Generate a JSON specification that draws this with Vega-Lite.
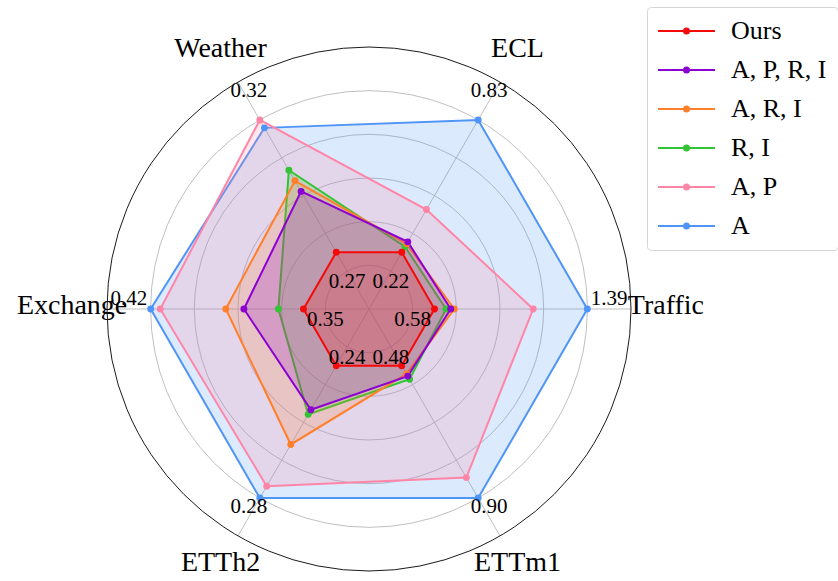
{
  "$schema": "https://vega.github.io/schema/vega-lite/v6.json",
  "width": 524,
  "height": 524,
  "autosize": {"type": "none"},
  "padding": {"left": 107, "top": 47, "right": 207, "bottom": 10},
  "config": {"view": {"stroke": null}, "font": "Liberation Serif"},
  "datasets": {
    "scores": [
      {"model": "A", "axis": "Traffic", "value": 1.39},
      {"model": "A", "axis": "ECL", "value": 0.83},
      {"model": "A", "axis": "Weather", "value": 0.317},
      {"model": "A", "axis": "Exchange", "value": 0.42},
      {"model": "A", "axis": "ETTh2", "value": 0.28},
      {"model": "A", "axis": "ETTm1", "value": 0.9},
      {"model": "A, P", "axis": "Traffic", "value": 1.103},
      {"model": "A, P", "axis": "ECL", "value": 0.417},
      {"model": "A, P", "axis": "Weather", "value": 0.32},
      {"model": "A, P", "axis": "Exchange", "value": 0.4156},
      {"model": "A, P", "axis": "ETTh2", "value": 0.2764},
      {"model": "A, P", "axis": "ETTm1", "value": 0.835},
      {"model": "R, I", "axis": "Traffic", "value": 0.641},
      {"model": "R, I", "axis": "ECL", "value": 0.246},
      {"model": "R, I", "axis": "Weather", "value": 0.301},
      {"model": "R, I", "axis": "Exchange", "value": 0.3615},
      {"model": "R, I", "axis": "ETTh2", "value": 0.2547},
      {"model": "R, I", "axis": "ETTm1", "value": 0.523},
      {"model": "A, R, I", "axis": "Traffic", "value": 0.685},
      {"model": "A, R, I", "axis": "ECL", "value": 0.259},
      {"model": "A, R, I", "axis": "Weather", "value": 0.297},
      {"model": "A, R, I", "axis": "Exchange", "value": 0.3856},
      {"model": "A, R, I", "axis": "ETTh2", "value": 0.2638},
      {"model": "A, R, I", "axis": "ETTm1", "value": 0.506},
      {"model": "A, P, R, I", "axis": "Traffic", "value": 0.666},
      {"model": "A, P, R, I", "axis": "ECL", "value": 0.268},
      {"model": "A, P, R, I", "axis": "Weather", "value": 0.293},
      {"model": "A, P, R, I", "axis": "Exchange", "value": 0.3773},
      {"model": "A, P, R, I", "axis": "ETTh2", "value": 0.2533},
      {"model": "A, P, R, I", "axis": "ETTm1", "value": 0.513},
      {"model": "Ours", "axis": "Traffic", "value": 0.58},
      {"model": "Ours", "axis": "ECL", "value": 0.22},
      {"model": "Ours", "axis": "Weather", "value": 0.27},
      {"model": "Ours", "axis": "Exchange", "value": 0.35},
      {"model": "Ours", "axis": "ETTh2", "value": 0.24},
      {"model": "Ours", "axis": "ETTm1", "value": 0.48}
    ],
    "rings": [{"r": 0.2}, {"r": 0.4}, {"r": 0.6}, {"r": 0.8}, {"r": 1.0}],
    "border": [{"r": 1.2}]
  },
  "layer": [
    {
      "data": {"name": "rings"},
      "mark": {"type": "arc", "theta": 0, "theta2": 6.2832, "filled": false, "stroke": "#b8b8b8", "strokeWidth": 0.9},
      "encoding": {
        "radius": {"field": "r", "type": "quantitative", "stack": null, "scale": {"type": "linear", "domain": [0, 1.2], "range": [0, 262], "zero": true}}
      }
    },
    {
      "data": {"name": "scores"},
      "transform": [
        {"joinaggregate": [{"op": "min", "field": "value", "as": "vmin"}, {"op": "max", "field": "value", "as": "vmax"}], "groupby": ["axis"]},
        {"calculate": "indexof(['Traffic','ECL','Weather','Exchange','ETTh2','ETTm1'], datum.axis)", "as": "k"},
        {"calculate": "datum.k * PI / 3", "as": "ang"},
        {"calculate": "0.3 + 0.7 * (datum.value - datum.vmin) / (datum.vmax - datum.vmin)", "as": "rad"},
        {"calculate": "datum.rad * cos(datum.ang)", "as": "px"},
        {"calculate": "datum.rad * sin(datum.ang)", "as": "py"}
      ],
      "layer": [
        {
          "transform": [
            {"filter": "datum.model === 'Ours'"},
            {"calculate": "0", "as": "ox"},
            {"calculate": "1.2 * cos(datum.ang)", "as": "sx"},
            {"calculate": "1.2 * sin(datum.ang)", "as": "sy"}
          ],
          "mark": {"type": "rule", "stroke": "#b8b8b8", "strokeWidth": 0.9},
          "encoding": {
            "x": {"field": "ox", "type": "quantitative", "scale": {"domain": [-1.2, 1.2], "nice": false, "zero": false}, "axis": null},
            "y": {"field": "ox", "type": "quantitative", "scale": {"domain": [-1.2, 1.2], "nice": false, "zero": false}, "axis": null},
            "x2": {"field": "sx"},
            "y2": {"field": "sy"}
          }
        },
        {
          "mark": {"type": "line", "interpolate": "linear-closed", "strokeWidth": 2, "fillOpacity": 0.2},
          "encoding": {
            "x": {"field": "px", "type": "quantitative", "scale": {"domain": [-1.2, 1.2], "nice": false, "zero": false}, "axis": null},
            "y": {"field": "py", "type": "quantitative", "scale": {"domain": [-1.2, 1.2], "nice": false, "zero": false}, "axis": null},
            "order": {"field": "k", "type": "quantitative"},
            "stroke": {
              "field": "model",
              "type": "nominal",
              "scale": {"domain": ["Ours", "A, P, R, I", "A, R, I", "R, I", "A, P", "A"], "range": ["#f50a0a", "#8c00d2", "#ff7f2a", "#33c433", "#ff85a6", "#4f95f7"]},
              "legend": {
                "orient": "none",
                "legendX": 540,
                "legendY": -40,
                "title": null,
                "symbolType": "M-2.85,0H2.85M0.25,0A0.25,0.25,0,1,1,-0.25,0A0.25,0.25,0,1,1,0.25,0",
                "symbolSize": 400,
                "symbolStrokeWidth": 2,
                "symbolOpacity": 1,
                "symbolOffset": 15.5,
                "labelOffset": 31.5,
                "labelFont": "Liberation Serif",
                "labelFontSize": 26,
                "labelColor": "black",
                "rowPadding": 13,
                "padding": 11,
                "strokeColor": "#d5d5d5",
                "cornerRadius": 4,
                "fillColor": "white"
              }
            },
            "fill": {"field": "model", "type": "nominal", "scale": {"domain": ["Ours", "A, P, R, I", "A, R, I", "R, I", "A, P", "A"], "range": ["#f50a0a", "#8c00d2", "#ff7f2a", "#33c433", "#ff85a6", "#4f95f7"]}}
          }
        },
        {
          "mark": {"type": "point", "filled": true, "opacity": 1, "size": 48},
          "encoding": {
            "x": {"field": "px", "type": "quantitative", "scale": {"domain": [-1.2, 1.2], "nice": false, "zero": false}, "axis": null},
            "y": {"field": "py", "type": "quantitative", "scale": {"domain": [-1.2, 1.2], "nice": false, "zero": false}, "axis": null},
            "fill": {"field": "model", "type": "nominal", "scale": {"domain": ["Ours", "A, P, R, I", "A, R, I", "R, I", "A, P", "A"], "range": ["#f50a0a", "#8c00d2", "#ff7f2a", "#33c433", "#ff85a6", "#4f95f7"]}}
          }
        },
        {
          "transform": [
            {"filter": "datum.model === 'Ours'"},
            {"calculate": "0.2 * cos(datum.ang)", "as": "tx"},
            {"calculate": "0.2 * sin(datum.ang)", "as": "ty"}
          ],
          "mark": {"type": "text", "baseline": "top", "align": "center", "fontSize": 21, "color": "black"},
          "encoding": {
            "x": {"field": "tx", "type": "quantitative", "scale": {"domain": [-1.2, 1.2], "nice": false, "zero": false}, "axis": null},
            "y": {"field": "ty", "type": "quantitative", "scale": {"domain": [-1.2, 1.2], "nice": false, "zero": false}, "axis": null},
            "text": {"field": "value", "type": "quantitative", "format": ".2f"}
          }
        },
        {
          "transform": [
            {"filter": "datum.value === datum.vmax"},
            {"calculate": "1.1 * cos(datum.ang)", "as": "tx"},
            {"calculate": "1.1 * sin(datum.ang)", "as": "ty"}
          ],
          "mark": {"type": "text", "baseline": "bottom", "align": "center", "fontSize": 21, "color": "black"},
          "encoding": {
            "x": {"field": "tx", "type": "quantitative", "scale": {"domain": [-1.2, 1.2], "nice": false, "zero": false}, "axis": null},
            "y": {"field": "ty", "type": "quantitative", "scale": {"domain": [-1.2, 1.2], "nice": false, "zero": false}, "axis": null},
            "text": {"field": "value", "type": "quantitative", "format": ".2f"}
          }
        },
        {
          "transform": [
            {"filter": "datum.model === 'Ours'"},
            {"calculate": "1.36 * cos(datum.ang)", "as": "tx"},
            {"calculate": "1.36 * sin(datum.ang)", "as": "ty"}
          ],
          "mark": {"type": "text", "baseline": "middle", "align": "center", "fontSize": 28, "dy": -3, "color": "black"},
          "encoding": {
            "x": {"field": "tx", "type": "quantitative", "scale": {"domain": [-1.2, 1.2], "nice": false, "zero": false}, "axis": null},
            "y": {"field": "ty", "type": "quantitative", "scale": {"domain": [-1.2, 1.2], "nice": false, "zero": false}, "axis": null},
            "text": {"field": "axis", "type": "nominal"}
          }
        }
      ]
    },
    {
      "data": {"name": "border"},
      "mark": {"type": "arc", "theta": 0, "theta2": 6.2832, "filled": false, "stroke": "#1a1a1a", "strokeWidth": 1},
      "encoding": {
        "radius": {"field": "r", "type": "quantitative", "stack": null, "scale": {"type": "linear", "domain": [0, 1.2], "range": [0, 262], "zero": true}}
      }
    }
  ]
}
